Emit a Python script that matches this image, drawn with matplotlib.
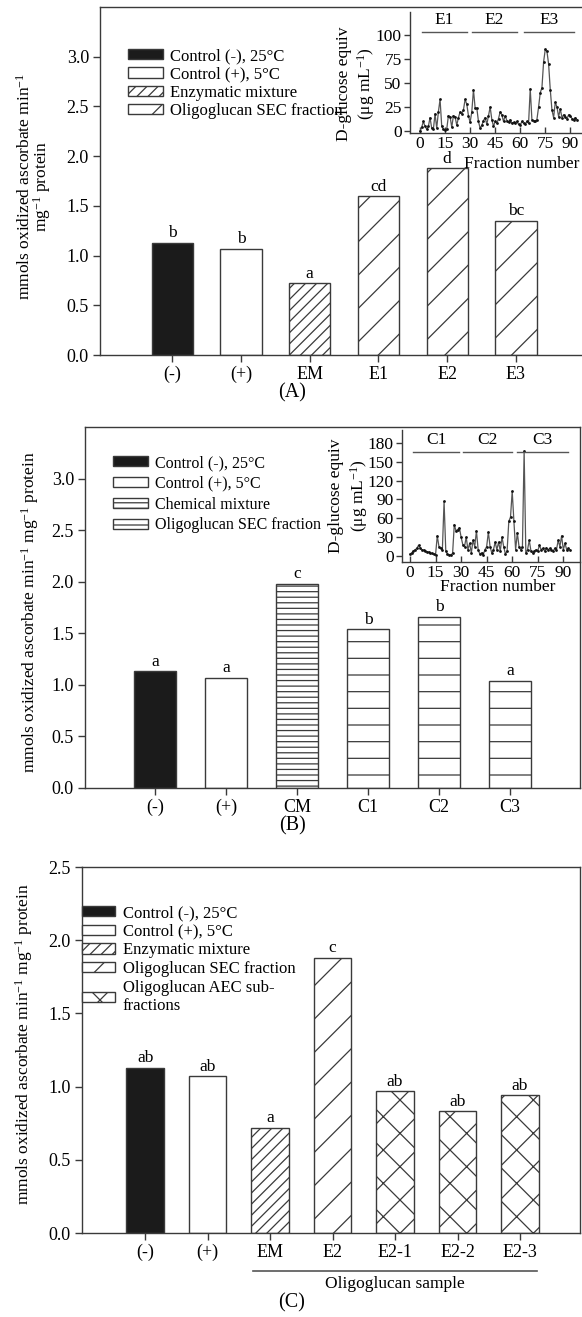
import matplotlib
matplotlib.use('Agg')
import matplotlib.pyplot as plt

plt.rcParams['font.family'] = ['Liberation Serif', 'DejaVu Serif']
plt.rcParams['mathtext.fontset'] = 'custom'
plt.rcParams['mathtext.rm'] = 'Liberation Serif'
plt.rcParams['mathtext.it'] = 'Liberation Serif:italic'
plt.rcParams['hatch.linewidth'] = 0.9
plt.rcParams['hatch.color'] = '#3a3a3a'

# ---- data ----
groups_a = ['(-)', '(+)', 'EM', 'E1', 'E2', 'E3']
values_a = [1.13, 1.07, 0.72, 1.60, 1.88, 1.35]
letters_a = ['b', 'b', 'a', 'cd', 'd', 'bc']

groups_b = ['(-)', '(+)', 'CM', 'C1', 'C2', 'C3']
values_b = [1.13, 1.07, 1.98, 1.54, 1.66, 1.04]
letters_b = ['a', 'a', 'c', 'b', 'b', 'a']

groups_c = ['(-)', '(+)', 'EM', 'E2', 'E2-1', 'E2-2', 'E2-3']
values_c = [1.13, 1.07, 0.72, 1.88, 0.97, 0.83, 0.94]
letters_c = ['ab', 'ab', 'a', 'c', 'ab', 'ab', 'ab']

# SEC elution profiles (D-glucose equiv, ug/mL) per fraction
glucose_a = [0, 4, 10, 5, 2, 5, 14, 3, 2, 18, 3, 20, 33, 5, 2, 1, 2, 16, 15, 4,
             16, 15, 6, 14, 20, 18, 22, 33, 28, 16, 9, 20, 43, 24, 24, 10, 3, 6, 11, 14,
             7, 16, 25, 12, 5, 10, 8, 13, 20, 17, 10, 16, 11, 9, 12, 8, 9, 8, 10, 7,
             6, 10, 8, 7, 10, 8, 44, 12, 11, 10, 12, 25, 40, 45, 72, 85, 83, 70, 43, 22,
             14, 30, 25, 15, 23, 14, 17, 15, 13, 17, 16, 13, 12, 14, 12]
glucose_b = [3, 5, 8, 10, 12, 17, 13, 10, 9, 8, 7, 6, 5, 4, 3, 2, 32, 15, 12, 10,
             87, 8, 3, 2, 2, 4, 50, 40, 42, 45, 30, 18, 15, 30, 10, 20, 5, 25, 15, 40,
             10, 3, 5, 2, 10, 15, 38, 15, 5, 10, 22, 10, 22, 8, 30, 15, 3, 8, 55, 62,
             103, 55, 10, 37, 15, 10, 15, 167, 5, 10, 25, 8, 5, 8, 10, 8, 17, 10, 12, 8,
             13, 10, 12, 10, 8, 12, 10, 25, 15, 32, 10, 20, 10, 12, 10]
fractions_a = list(range(len(glucose_a)))
fractions_b = list(range(len(glucose_b)))

pools_a = ['E1', 'E2', 'E3']
pool_start_a = [1, 31, 62]
pool_end_a = [28, 58, 92]
pools_b = ['C1', 'C2', 'C3']
pool_start_b = [2, 31, 63]
pool_end_b = [29, 60, 93]

legend_a = ['Control (-), 25°C', 'Control (+), 5°C', 'Enzymatic mixture', 'Oligoglucan SEC fraction']
legend_b = ['Control (-), 25°C', 'Control (+), 5°C', 'Chemical mixture', 'Oligoglucan SEC fraction']
legend_c = ['Control (-), 25°C', 'Control (+), 5°C', 'Enzymatic mixture', 'Oligoglucan SEC fraction',
            'Oligoglucan AEC sub-\nfractions']

# ---- styles ----
EDGE = '#3a3a3a'
BLACK = '#1b1b1b'
fills_a = [BLACK, 'white', 'white', 'white', 'white', 'white']
hatch_a = ['', '', '///', '/', '/', '/']
fills_b = [BLACK, 'white', 'white', 'white', 'white', 'white']
hatch_b = ['', '', '---', '-', '-', '-']
fills_c = [BLACK, 'white', 'white', 'white', 'white', 'white', 'white']
hatch_c = ['', '', '///', '/', 'x', 'x', 'x']

W, H = 582, 1317
fig = plt.figure(figsize=(W / 100, H / 100), dpi=100)


def box(l, t, r, b):
    return [l / W, 1 - b / H, (r - l) / W, (b - t) / H]


ylab = 'mmols oxidized ascorbate min$^{-1}$ mg$^{-1}$ protein'


def bar_panel(rect, groups, values, letters, fills, hatches, xlim, ymax, yticks, right_spine=True):
    ax = fig.add_axes(rect)
    xs = list(range(len(groups)))
    bars = ax.bar(xs, values, width=0.6, color=fills, edgecolor=EDGE, linewidth=1.0)
    for p, h in zip(bars, hatches):
        p.set_hatch(h)
    for x, v, t in zip(xs, values, letters):
        ax.annotate(t, (x, v), xytext=(0, 1), textcoords='offset points',
                    ha='center', va='bottom', fontsize=12.5)
    ax.set_xlim(*xlim)
    ax.set_ylim(0, ymax)
    ax.set_yticks(yticks)
    ax.set_yticklabels(['%.1f' % t for t in yticks])
    ax.set_xticks(xs)
    ax.set_xticklabels(groups)
    ax.tick_params(direction='out', length=5, width=1, color=EDGE, labelsize=13, pad=3)
    for s in ax.spines.values():
        s.set_color(EDGE)
        s.set_linewidth(1.0)
    if not right_spine:
        ax.spines['right'].set_visible(False)
    return ax, bars


def inset(rect, fr, vals, xlim, ylim, yticks, pools, p0, p1, ybar, xlab_pos, ylab_pos):
    ax = fig.add_axes(rect)
    ax.set_facecolor('none')
    ax.plot(fr, vals, '-', color='#555555', lw=0.9)
    ax.plot(fr, vals, 'o', color='#111111', ms=2.0, mew=0)
    for name, a, b in zip(pools, p0, p1):
        ax.plot([a, b], [ybar, ybar], color='#555555', lw=1.0)
        ax.text((a + b) / 2, ybar * 1.04, name, ha='center', va='bottom', fontsize=12.5)
    ax.set_xlim(*xlim)
    ax.set_ylim(*ylim)
    ax.set_xticks([0, 15, 30, 45, 60, 75, 90])
    ax.set_yticks(yticks)
    ax.spines['top'].set_visible(False)
    ax.spines['right'].set_visible(False)
    for s in ('left', 'bottom'):
        ax.spines[s].set_color(EDGE)
        ax.spines[s].set_linewidth(1.0)
    ax.tick_params(direction='out', length=4, width=1, color=EDGE, labelsize=12.5, pad=2)
    ax.tick_params(axis='x', direction='in', pad=2)
    ax.set_xlabel('Fraction number', fontsize=12.5)
    ax.xaxis.set_label_coords(*xlab_pos)
    ax.set_ylabel('D-glucose equiv\n(μg mL$^{-1}$)', fontsize=12.5, linespacing=1.25)
    ax.yaxis.set_label_coords(*ylab_pos)
    return ax


def add_legend(ax, handles, labels, anchor, hl, sp):
    ax.legend(handles, labels, loc='upper left', bbox_to_anchor=(anchor[0] / W, 1 - anchor[1] / H),
              bbox_transform=fig.transFigure, frameon=False, fontsize=12,
              handlelength=hl, handleheight=0.6, handletextpad=0.45, labelspacing=sp,
              borderpad=0, borderaxespad=0)


# ---------- (A) ----------
axA, barsA = bar_panel(box(100, 7, 582, 355), groups_a, values_a, letters_a, fills_a, hatch_a,
                       (-1.05, 5.96), 3.5, [0, 0.5, 1.0, 1.5, 2.0, 2.5, 3.0], right_spine=False)
axA.set_ylabel('mmols oxidized ascorbate min$^{-1}$\nmg$^{-1}$ protein', fontsize=12.5, linespacing=0.8)
axA.yaxis.set_label_coords(-0.098, 0.485)
add_legend(axA, [barsA[i] for i in range(4)], legend_a, (128, 48), 2.1, 0.14)
inset(box(410, 12, 582, 133), fractions_a, glucose_a, (-6, 97), (-2, 124), [0, 25, 50, 75, 100],
      pools_a, pool_start_a, pool_end_a, 103, (0.65, -0.19), (-0.19, 0.41))
fig.text(292 / W, 1 - 393 / H, '(A)', ha='center', va='center', fontsize=14.5)

# ---------- (B) ----------
axB, barsB = bar_panel(box(85, 427, 580, 788), groups_b, values_b, letters_b, fills_b, hatch_b,
                       (-0.99, 5.99), 3.5, [0, 0.5, 1.0, 1.5, 2.0, 2.5, 3.0])
axB.set_ylabel(ylab, fontsize=12.5)
axB.yaxis.set_label_coords(-0.088, 0.486)
axB.legend([barsB[i] for i in range(4)], legend_b, loc='upper left',
           bbox_to_anchor=(113 / W, 1 - 455 / H), bbox_transform=fig.transFigure,
           frameon=False, fontsize=11.5, handlelength=2.2, handleheight=0.6,
           handletextpad=0.45, labelspacing=0.3, borderpad=0, borderaxespad=0)
inset(box(402, 430, 580, 562), fractions_b, glucose_b, (-4.7, 99.8), (-9.6, 200.6),
      [0, 30, 60, 90, 120, 150, 180],
      pools_b, pool_start_b, pool_end_b, 165, (0.54, -0.13), (-0.18, 0.5))
fig.text(292 / W, 1 - 826 / H, '(B)', ha='center', va='center', fontsize=14.5)

# ---------- (C) ----------
axC, barsC = bar_panel(box(82, 867, 580, 1233), groups_c, values_c, letters_c, fills_c, hatch_c,
                       (-1.01, 6.96), 2.5, [0, 0.5, 1.0, 1.5, 2.0, 2.5])
axC.set_ylabel(ylab, fontsize=12.5)
axC.yaxis.set_label_coords(-0.095, 0.516)
add_legend(axC, [barsC[i] for i in (0, 1, 2, 3, 4)], legend_c, (82, 905), 2.0, 0.16)
axC.plot([1.73, 6.27], [-0.104, -0.104], color='#555555', lw=1.2,
         transform=axC.get_xaxis_transform(), clip_on=False)
axC.text(4, -0.14, 'Oligoglucan sample', ha='center', va='center', fontsize=12.5,
         transform=axC.get_xaxis_transform())
fig.text(292 / W, 1 - 1303 / H, '(C)', ha='center', va='center', fontsize=14.5)

fig.savefig('out.png', dpi=100, facecolor='white')
